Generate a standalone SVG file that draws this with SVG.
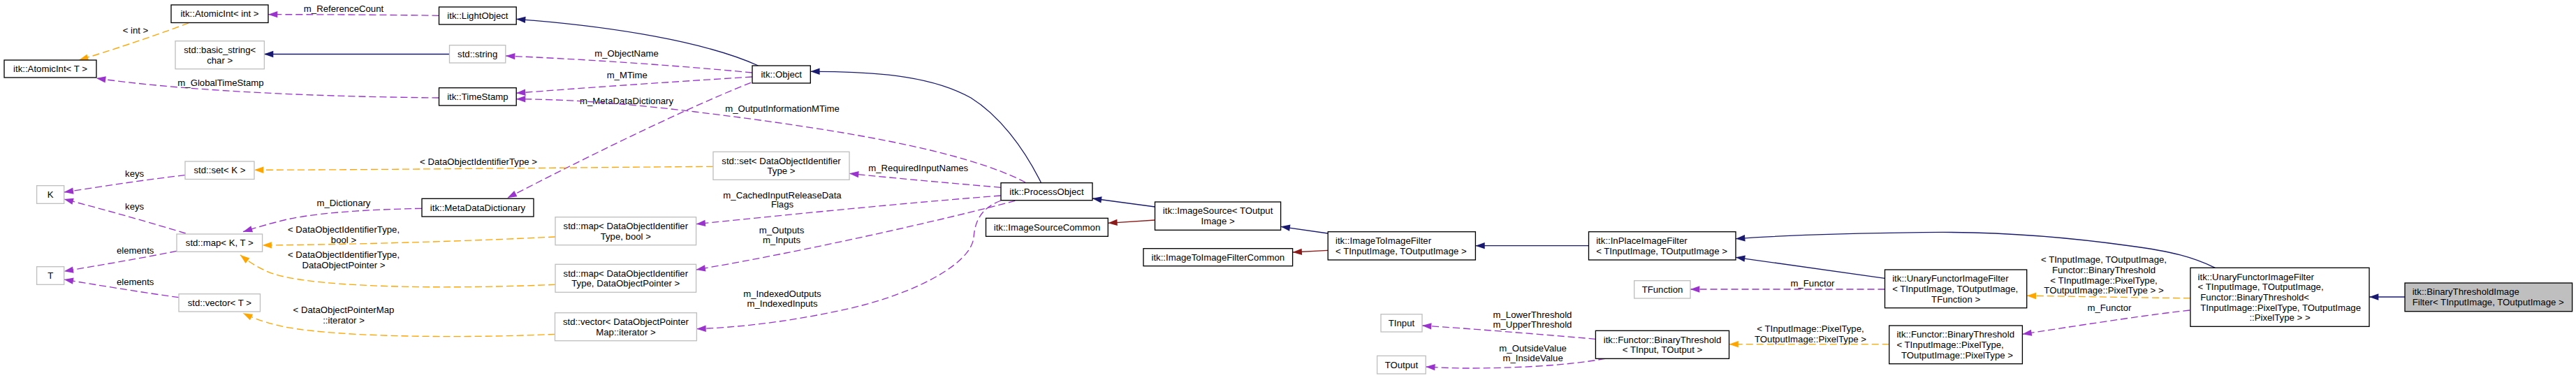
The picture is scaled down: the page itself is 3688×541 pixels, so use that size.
<svg xmlns="http://www.w3.org/2000/svg" width="3688" height="541" viewBox="0 0 3688 541">
<style>
text{font-family:"Liberation Sans",Arial,Helvetica,sans-serif;font-size:13.2px;fill:#000}
.c{text-anchor:middle}
.s{text-anchor:start}
.nb{fill:#fff;stroke:#000;stroke-width:1.33}
.ng{fill:#fff;stroke:#bfbfbf;stroke-width:1.33}
.nh{fill:#bfbfbf;stroke:#000;stroke-width:1.33}
.e{fill:none;stroke-width:1.33}
.nv{stroke:#191970;marker-end:url(#aNv)}
.pu{stroke:#9a32cd;stroke-dasharray:10,5;marker-end:url(#aPu)}
.or{stroke:#ffa500;stroke-dasharray:10,5;marker-end:url(#aOr)}
.rd{stroke:#8b1a1a;marker-end:url(#aRd)}
</style>
<defs>
<marker id="aNv" markerUnits="userSpaceOnUse" markerWidth="14" markerHeight="10" refX="13.3" refY="4.67" orient="auto" overflow="visible"><path d="M0,0 L13.3,4.67 L0,9.33 z" fill="#191970"/></marker>
<marker id="aPu" markerUnits="userSpaceOnUse" markerWidth="14" markerHeight="10" refX="13.3" refY="4.67" orient="auto" overflow="visible"><path d="M0,0 L13.3,4.67 L0,9.33 z" fill="#9a32cd"/></marker>
<marker id="aOr" markerUnits="userSpaceOnUse" markerWidth="14" markerHeight="10" refX="13.3" refY="4.67" orient="auto" overflow="visible"><path d="M0,0 L13.3,4.67 L0,9.33 z" fill="#ffa500"/></marker>
<marker id="aRd" markerUnits="userSpaceOnUse" markerWidth="14" markerHeight="10" refX="13.3" refY="4.67" orient="auto" overflow="visible"><path d="M0,0 L13.3,4.67 L0,9.33 z" fill="#8b1a1a"/></marker>
</defs>
<rect width="3688" height="541" fill="#fff"/>

<g id="edges">
<path class="e pu" d="M628.5,22.3 C540,21 450,20.7 384,20.7"/>
<text class="c" x="492" y="16.7">m_ReferenceCount</text>
<path class="e or" d="M270,33 C220,52 150,75 113,86"/>
<text class="c" x="194" y="47.7">&lt; int &gt;</text>
<path class="e nv" d="M643.5,77.5 L378,77.5"/>
<path class="e pu" d="M628.5,140 C420,138 250,128 138,112"/>
<text class="c" x="316" y="122.7">m_GlobalTimeStamp</text>
<path class="e nv" d="M1085.6,94 C1010,60 880,38 739,27.3"/>
<path class="e pu" d="M1077,104 C950,92 820,84 724,80"/>
<text class="c" x="897" y="80.7">m_ObjectName</text>
<path class="e pu" d="M1077,110 C950,118 830,126 739,133.3"/>
<text class="c" x="897.7" y="112">m_MTime</text>
<path class="e pu" d="M1075,118.3 C970,160 820,235 726.5,283.3"/>
<text class="c" x="897" y="148.7">m_MetaDataDictionary</text>
<path class="e pu" d="M1468,261 C1380,215 1200,185 995,160 C880,146 800,142 739,141.7"/>
<text class="c" x="1120" y="160.4">m_OutputInformationMTime</text>
<path class="e nv" d="M1490.6,261.7 C1465,210 1430,165 1390,140 C1340,112 1270,102 1160.3,102.3"/>
<path class="e pu" d="M1432.7,268.3 C1360,262 1280,255 1216,248.3"/>
<text class="c" x="1314.7" y="245.4">m_RequiredInputNames</text>
<path class="e or" d="M1021,238.3 C800,240 550,243 364,243.3"/>
<text class="c" x="685" y="236.4">&lt; DataObjectIdentifierType &gt;</text>
<path class="e pu" d="M1432.7,280 C1300,290 1100,310 996.6,320.7"/>
<text class="c" x="1120" y="283.7">m_CachedInputReleaseData</text>
<text class="c" x="1120" y="297.4">Flags</text>
<path class="e pu" d="M1453.3,287.3 C1350,315 1150,360 996.6,386"/>
<text class="c" x="1119" y="333.7">m_Outputs</text>
<text class="c" x="1119" y="348">m_Inputs</text>
<path class="e pu" d="M1433,287 C1405,298 1396,315 1394,340 C1390,380 1300,425 1200,445 C1120,462 1050,469 997.4,470.7"/>
<text class="c" x="1120" y="424.7">m_IndexedOutputs</text>
<text class="c" x="1120" y="439.4">m_IndexedInputs</text>
<path class="e or" d="M795,339 C650,346 500,350 375.6,351"/>
<text class="c" x="492" y="333">&lt; DataObjectIdentifierType,</text>
<text class="c" x="492" y="348">bool &gt;</text>
<path class="e or" d="M795,407.3 C640,414 460,412 395,393 C375,387 358,376 344,365"/>
<text class="c" x="492" y="369">&lt; DataObjectIdentifierType,</text>
<text class="c" x="492" y="383.7">DataObjectPointer &gt;</text>
<path class="e or" d="M794.5,478.3 C650,485 460,482 395,465 C375,460 360,454 348,448.3"/>
<text class="c" x="492" y="448">&lt; DataObjectPointerMap</text>
<text class="c" x="492" y="463">::iterator &gt;</text>
<path class="e pu" d="M604,298.3 C520,300 440,305 395,318 C375,323 360,328 348,331.7"/>
<text class="c" x="492" y="295.4">m_Dictionary</text>
<path class="e pu" d="M265,250.7 C200,258 140,268 91.7,275"/>
<text class="c" x="192.6" y="252.7">keys</text>
<path class="e pu" d="M265.7,334 C220,320 150,300 91.7,285"/>
<text class="c" x="192.6" y="300.4">keys</text>
<path class="e pu" d="M253,359.3 C200,370 140,380 91.7,388.3"/>
<text class="c" x="193.7" y="363">elements</text>
<path class="e pu" d="M256,425.7 C200,418 140,408 91.7,400"/>
<text class="c" x="193.7" y="408">elements</text>
<path class="e nv" d="M1653.5,296 L1563.8,284"/>
<path class="e rd" d="M1653.5,315 L1586.3,319.3"/>
<path class="e nv" d="M1901,334 L1833.6,324.3"/>
<path class="e rd" d="M1901,358.3 L1850.6,361"/>
<path class="e nv" d="M2274.5,351.7 L2112.4,351.7"/>
<path class="e nv" d="M3171.4,383.3 C3140,368 3110,360 3050,352 C2950,338 2850,331 2752,332.7 C2650,334 2550,337 2485,341.7"/>
<path class="e nv" d="M2698.5,398.3 L2485,368.3"/>
<path class="e pu" d="M2698.5,414 L2420,414"/>
<text class="c" x="2595" y="409.7">m_Functor</text>
<path class="e or" d="M3135.9,426.7 C3050,426 2960,424 2901.7,423.3"/>
<text class="c" x="3012" y="376.4">&lt; TInputImage, TOutputImage,</text>
<text class="c" x="3012" y="391.1">Functor::BinaryThreshold</text>
<text class="c" x="3012" y="405.7">&lt; TInputImage::PixelType,</text>
<text class="c" x="3012" y="420.4">TOutputImage::PixelType &gt; &gt;</text>
<path class="e pu" d="M3135,444 C3080,450 3000,462 2895.4,478.3"/>
<text class="c" x="3020" y="444.7">m_Functor</text>
<path class="e or" d="M2704.7,492.7 L2475.5,492.7"/>
<text class="c" x="2592" y="475.4">&lt; TInputImage::PixelType,</text>
<text class="c" x="2592" y="489.7">TOutputImage::PixelType &gt;</text>
<path class="e pu" d="M2284.4,485.3 C2200,478 2100,470 2036,466"/>
<text class="c" x="2194" y="455.4">m_LowerThreshold</text>
<text class="c" x="2194" y="469">m_UpperThreshold</text>
<path class="e pu" d="M2298,513.3 C2240,524 2160,527 2100,527 C2080,527 2060,526 2041.2,525"/>
<text class="c" x="2194.6" y="503.4">m_OutsideValue</text>
<text class="c" x="2194.6" y="517.4">m_InsideValue</text>
<path class="e nv" d="M3443,425 L3392,425"/>
</g>

<g id="n_atomicT"><rect class="nb" x="6" y="86" width="132" height="25"/><text class="c" x="72" y="103.3">itk::AtomicInt&lt; T &gt;</text></g>
<g id="n_atomicInt"><rect class="nb" x="245" y="7" width="139" height="25.5"/><text class="c" x="314.5" y="24.3">itk::AtomicInt&lt; int &gt;</text></g>
<g id="n_basicString"><rect class="ng" x="251" y="58.7" width="127.4" height="40"/><text class="c" x="314.7" y="76">std::basic_string&lt;</text><text class="c" x="314.7" y="90.7">char &gt;</text></g>
<g id="n_setK"><rect class="ng" x="265" y="231" width="99" height="25.5"/><text class="c" x="314.5" y="248.3">std::set&lt; K &gt;</text></g>
<g id="n_K"><rect class="ng" x="52.6" y="265.7" width="39.1" height="25.6"/><text class="c" x="72.2" y="283">K</text></g>
<g id="n_mapKT"><rect class="ng" x="253" y="335" width="122.6" height="25.3"/><text class="c" x="314.3" y="352.3">std::map&lt; K, T &gt;</text></g>
<g id="n_T"><rect class="ng" x="52.6" y="381.7" width="39.1" height="25.6"/><text class="c" x="72.2" y="399">T</text></g>
<g id="n_vectorT"><rect class="ng" x="256" y="420.7" width="116.5" height="25.3"/><text class="c" x="314.3" y="438">std::vector&lt; T &gt;</text></g>
<g id="n_light"><rect class="nb" x="628.5" y="10" width="110.7" height="25"/><text class="c" x="683.9" y="27.3">itk::LightObject</text></g>
<g id="n_string"><rect class="ng" x="643.5" y="64.7" width="80.3" height="25.3"/><text class="c" x="683.7" y="82">std::string</text></g>
<g id="n_timestamp"><rect class="nb" x="628.5" y="125.7" width="110.7" height="25.3"/><text class="c" x="683.9" y="143">itk::TimeStamp</text></g>
<g id="n_mdd"><rect class="nb" x="604" y="284.3" width="160" height="25.7"/><text class="c" x="684" y="301.6">itk::MetaDataDictionary</text></g>
<g id="n_mapBool"><rect class="ng" x="795" y="310.7" width="201.6" height="40"/><text class="c" x="895.8" y="328">std::map&lt; DataObjectIdentifier</text><text class="c" x="895.8" y="342.7">Type, bool &gt;</text></g>
<g id="n_mapDOP"><rect class="ng" x="795" y="378.3" width="201.6" height="40"/><text class="c" x="895.8" y="395.6">std::map&lt; DataObjectIdentifier</text><text class="c" x="895.8" y="410.3">Type, DataObjectPointer &gt;</text></g>
<g id="n_vectorIt"><rect class="ng" x="794.5" y="447.7" width="202.9" height="40"/><text class="c" x="896" y="465">std::vector&lt; DataObjectPointer</text><text class="c" x="896" y="479.7">Map::iterator &gt;</text></g>
<g id="n_object"><rect class="nb" x="1077" y="94" width="83.3" height="25"/><text class="c" x="1118.7" y="111.3">itk::Object</text></g>
<g id="n_setDOIT"><rect class="ng" x="1021" y="217.3" width="195" height="40"/><text class="c" x="1118.5" y="234.6">std::set&lt; DataObjectIdentifier</text><text class="c" x="1118.5" y="249.3">Type &gt;</text></g>
<g id="n_process"><rect class="nb" x="1433" y="261.7" width="131" height="25"/><text class="c" x="1498.5" y="279">itk::ProcessObject</text></g>
<g id="n_isc"><rect class="nb" x="1411.5" y="312.3" width="174.8" height="26"/><text class="c" x="1499" y="329.7">itk::ImageSourceCommon</text></g>
<g id="n_is"><rect class="nb" x="1653.5" y="289" width="180.1" height="40.3"/><text class="c" x="1743.6" y="306.3">itk::ImageSource&lt; TOutput</text><text class="c" x="1743.6" y="321">Image &gt;</text></g>
<g id="n_itifc"><rect class="nb" x="1637" y="355.7" width="213.6" height="25"/><text class="c" x="1743.8" y="373">itk::ImageToImageFilterCommon</text></g>
<g id="n_itif"><rect class="nb" x="1901.2" y="331.7" width="211.2" height="40.3"/><text class="s" x="1912" y="349">itk::ImageToImageFilter</text><text class="s" x="1912" y="363.7">&lt; TInputImage, TOutputImage &gt;</text></g>
<g id="n_inplace"><rect class="nb" x="2274.5" y="331.7" width="210.5" height="40.3"/><text class="s" x="2285.2" y="349">itk::InPlaceImageFilter</text><text class="s" x="2285.2" y="363.7">&lt; TInputImage, TOutputImage &gt;</text></g>
<g id="n_tfunction"><rect class="ng" x="2339.7" y="401.7" width="80.3" height="25.3"/><text class="c" x="2380" y="419">TFunction</text></g>
<g id="n_tinput"><rect class="ng" x="1977" y="449.7" width="59" height="25.3"/><text class="c" x="2006.5" y="467">TInput</text></g>
<g id="n_toutput"><rect class="ng" x="1971.6" y="509.3" width="69.6" height="25.7"/><text class="c" x="2006.4" y="526.6">TOutput</text></g>
<g id="n_btTT"><rect class="nb" x="2284.4" y="473.3" width="191.1" height="40"/><text class="c" x="2380" y="490.6">itk::Functor::BinaryThreshold</text><text class="c" x="2380" y="505.3">&lt; TInput, TOutput &gt;</text></g>
<g id="n_ufTF"><rect class="nb" x="2698.5" y="386" width="203.2" height="54.7"/><text class="s" x="2709.2" y="403.3">itk::UnaryFunctorImageFilter</text><text class="s" x="2709.2" y="418">&lt; TInputImage, TOutputImage,</text><text class="c" x="2800.1" y="432.7">TFunction &gt;</text></g>
<g id="n_btPT"><rect class="nb" x="2704.7" y="466" width="190.7" height="54.7"/><text class="s" x="2715.4" y="483.3">itk::Functor::BinaryThreshold</text><text class="s" x="2715.4" y="498">&lt; TInputImage::PixelType,</text><text class="c" x="2802" y="512.7">TOutputImage::PixelType &gt;</text></g>
<g id="n_ufF"><rect class="nb" x="3135.9" y="383.3" width="256.1" height="84"/><text class="s" x="3146.6" y="400.6">itk::UnaryFunctorImageFilter</text><text class="s" x="3146.6" y="415.3">&lt; TInputImage, TOutputImage,</text><text class="s" x="3150.3" y="430">Functor::BinaryThreshold&lt;</text><text class="s" x="3150.3" y="444.6">TInputImage::PixelType, TOutputImage</text><text class="c" x="3264" y="459.3">::PixelType &gt; &gt;</text></g>
<g id="n_btif"><rect class="nh" x="3443" y="405" width="239.6" height="40.7"/><text class="s" x="3453.7" y="422.3">itk::BinaryThresholdImage</text><text class="s" x="3453.7" y="437">Filter&lt; TInputImage, TOutputImage &gt;</text></g>
</svg>
